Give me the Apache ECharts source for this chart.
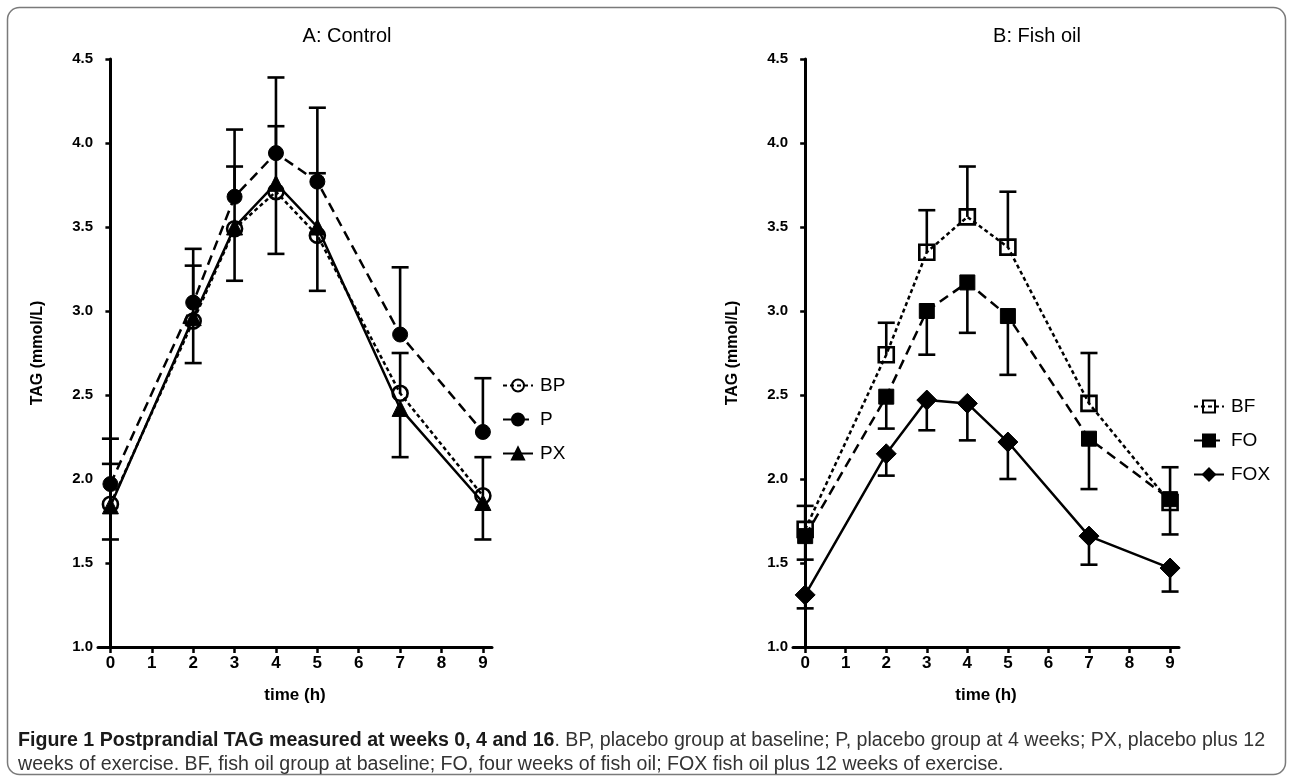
<!DOCTYPE html>
<html>
<head>
<meta charset="utf-8">
<script src="https://cdn.jsdelivr.net/npm/echarts@6/dist/echarts.min.js"></script>
<style>html,body{margin:0;padding:0;background:#fff;}#c{width:1293px;height:780px;}</style>
</head>
<body>
<div id="c"></div>
<script>
// ---- data ----
const times = [0, 2, 3, 4, 5, 7, 9];
const xTicks = [0, 1, 2, 3, 4, 5, 6, 7, 8, 9];
const yTicks = [1.0, 1.5, 2.0, 2.5, 3.0, 3.5, 4.0, 4.5];

// Panel A: Control
const bpMean  = [1.85, 2.94, 3.49, 3.71, 3.45, 2.51, 1.90];
const bpUpper = [2.09, 3.27, 3.86, 4.10, 3.82, 2.75, 2.13];
const pMean   = [1.97, 3.05, 3.68, 3.94, 3.77, 2.86, 2.28];
const pUpper  = [2.24, 3.37, 4.08, 4.39, 4.21, 3.26, 2.60];
const pxMean  = [1.84, 2.96, 3.50, 3.76, 3.50, 2.42, 1.86];
const pxLower = [1.64, 2.69, 3.18, 3.34, 3.12, 2.13, 1.64];

// Panel B: Fish oil
const bfMean  = [1.70, 2.74, 3.35, 3.56, 3.38, 2.45, 1.86];
const bfUpper = [1.84, 2.93, 3.60, 3.86, 3.71, 2.75, 2.07];
const foMean  = [1.66, 2.49, 3.00, 3.17, 2.97, 2.24, 1.88];
const foLower = [1.52, 2.30, 2.74, 2.87, 2.62, 1.94, 1.67];
const foxMean = [1.31, 2.15, 2.47, 2.45, 2.22, 1.66, 1.47];
const foxLower= [1.23, 2.02, 2.29, 2.23, 2.00, 1.49, 1.33];

const panelTitles = ['A: Control', 'B: Fish oil'];
const legendA = ['BP', 'P', 'PX'];
const legendB = ['BF', 'FO', 'FOX'];

// ---- helpers ----
const FONT = '"Liberation Sans", Arial, sans-serif';
const pts = (m) => times.map((t, i) => [t, m[i]]);
const errPts = (m, e) => times.map((t, i) => [t, m[i], e[i]]);

function errSeries(name, idx, m, e) {
  return {
    type: 'custom', name: name + '_err', xAxisIndex: idx, yAxisIndex: idx, z: 3,
    silent: true,
    encode: { x: 0, y: [1, 2] },
    data: errPts(m, e),
    renderItem: function (params, api) {
      const x = api.value(0), mv = api.value(1), ev = api.value(2);
      const p1 = api.coord([x, mv]);
      const p2 = api.coord([x, ev]);
      const hw = 8.5;
      const st = { stroke: '#000', lineWidth: 2.6 };
      return { type: 'group', children: [
        { type: 'line', shape: { x1: p1[0], y1: p1[1], x2: p2[0], y2: p2[1] }, style: st },
        { type: 'line', shape: { x1: p2[0] - hw, y1: p2[1], x2: p2[0] + hw, y2: p2[1] }, style: st }
      ]};
    }
  };
}

function lineSeries(name, idx, m, symbol, size, filled, dash) {
  return {
    type: 'line', name: name, xAxisIndex: idx, yAxisIndex: idx, z: 5,
    data: pts(m),
    symbol: symbol, symbolSize: size, showAllSymbol: true,
    lineStyle: { color: '#000', width: 2.5, type: dash },
    itemStyle: filled ? { color: '#000', borderColor: '#000', borderWidth: 1 }
                      : { color: 'rgba(255,255,255,0)', borderColor: '#000', borderWidth: 2.6 },
    emphasis: { disabled: true },
    animation: false
  };
}

function xAxisCfg(idx) {
  return {
    type: 'value', gridIndex: idx, min: -0.3, max: 9.22,
    name: 'time (h)', nameLocation: 'middle', nameGap: 40,
    nameTextStyle: { fontFamily: FONT, fontWeight: 'bold', fontSize: 17, color: '#000' },
    axisLine: { show: true, lineStyle: { color: '#000', width: 3 } },
    axisTick: { show: true, length: 6, lineStyle: { color: '#000', width: 2.5 }, customValues: xTicks },
    axisLabel: { fontFamily: FONT, fontWeight: 'bold', fontSize: 17, color: '#000', margin: 8, customValues: xTicks },
    splitLine: { show: false }
  };
}
function yAxisCfg(idx) {
  return {
    type: 'value', gridIndex: idx, min: yTicks[0], max: yTicks[yTicks.length - 1], interval: 0.5,
    name: 'TAG (mmol/L)', nameLocation: 'middle', nameGap: 52, nameRotate: 90,
    nameTextStyle: { fontFamily: FONT, fontWeight: 'bold', fontSize: 16, color: '#000' },
    axisLine: { show: true, lineStyle: { color: '#000', width: 3 } },
    axisTick: { show: true, length: 5, lineStyle: { color: '#000', width: 2.5 } },
    axisLabel: { fontFamily: FONT, fontWeight: 'bold', fontSize: 15, color: '#000', margin: 5,
                 formatter: (v) => v.toFixed(1) },
    splitLine: { show: false }
  };
}
function legendCfg(names, left, top) {
  return {
    data: names, orient: 'vertical', left: left, top: top,
    itemWidth: 30, itemHeight: 15, itemGap: 15,
    textStyle: { fontFamily: FONT, fontSize: 19, color: '#000', padding: [0, 0, 0, 2] },
    selectedMode: false
  };
}

const CAP_FONT = '"Liberation Sans", Arial, sans-serif';
const CAP_SIZE = 19.6;

const chart = echarts.init(document.getElementById('c'), null, { renderer: 'canvas' });
const option = {
  animation: false,
  backgroundColor: '#fff',
  grid: [
    { left: 98, top: 59, width: 394, height: 588 },
    { left: 793, top: 59, width: 386, height: 588 }
  ],
  xAxis: [xAxisCfg(0), xAxisCfg(1)],
  yAxis: [yAxisCfg(0), yAxisCfg(1)],
  legend: [legendCfg(legendA, 497, 371), legendCfg(legendB, 1188, 392)],
  series: [
    errSeries('BP', 0, bpMean, bpUpper),
    errSeries('P', 0, pMean, pUpper),
    errSeries('PX', 0, pxMean, pxLower),
    lineSeries('BP', 0, bpMean, 'circle', 15, false, [4, 3]),
    lineSeries('P', 0, pMean, 'circle', 15, true, [10, 6]),
    lineSeries('PX', 0, pxMean, 'triangle', 16, true, 'solid'),
    errSeries('BF', 1, bfMean, bfUpper),
    errSeries('FO', 1, foMean, foLower),
    errSeries('FOX', 1, foxMean, foxLower),
    lineSeries('BF', 1, bfMean, 'rect', 15, false, [4, 3]),
    lineSeries('FO', 1, foMean, 'rect', 15, true, [10, 6]),
    lineSeries('FOX', 1, foxMean, 'diamond', [20, 20], true, 'solid')
  ],
  graphic: [
    { type: 'rect', z: -1, shape: { x: 7.5, y: 7.5, width: 1278, height: 767, r: 12 },
      style: { fill: 'none', stroke: '#7a7a7a', lineWidth: 1.5 } },
    { type: 'text', x: 347, y: 36, style: { text: panelTitles[0], fontFamily: FONT, fontSize: 20, fill: '#000', align: 'center', verticalAlign: 'middle' } },
    { type: 'text', x: 1037, y: 36, style: { text: panelTitles[1], fontFamily: FONT, fontSize: 20, fill: '#000', align: 'center', verticalAlign: 'middle' } },
    { type: 'text', x: 18, y: 741, style: {
        text: '{b|Figure 1 Postprandial TAG measured at weeks 0, 4 and 16}{n|. BP, placebo group at baseline; P, placebo group at 4 weeks; PX, placebo plus 12}',
        verticalAlign: 'middle', fontFamily: CAP_FONT, fontSize: CAP_SIZE, fill: '#222',
        rich: { b: { fontWeight: 'bold', fontSize: CAP_SIZE, fontFamily: CAP_FONT, fill: '#1a1a1a' },
                n: { fontSize: CAP_SIZE, fontFamily: CAP_FONT, fill: '#333' } } } },
    { type: 'text', x: 18, y: 765, style: {
        text: 'weeks of exercise. BF, fish oil group at baseline; FO, four weeks of fish oil; FOX fish oil plus 12 weeks of exercise.',
        verticalAlign: 'middle', fontFamily: CAP_FONT, fontSize: CAP_SIZE, fill: '#333' } }
  ]
};
chart.setOption(option);
</script>
</body>
</html>
